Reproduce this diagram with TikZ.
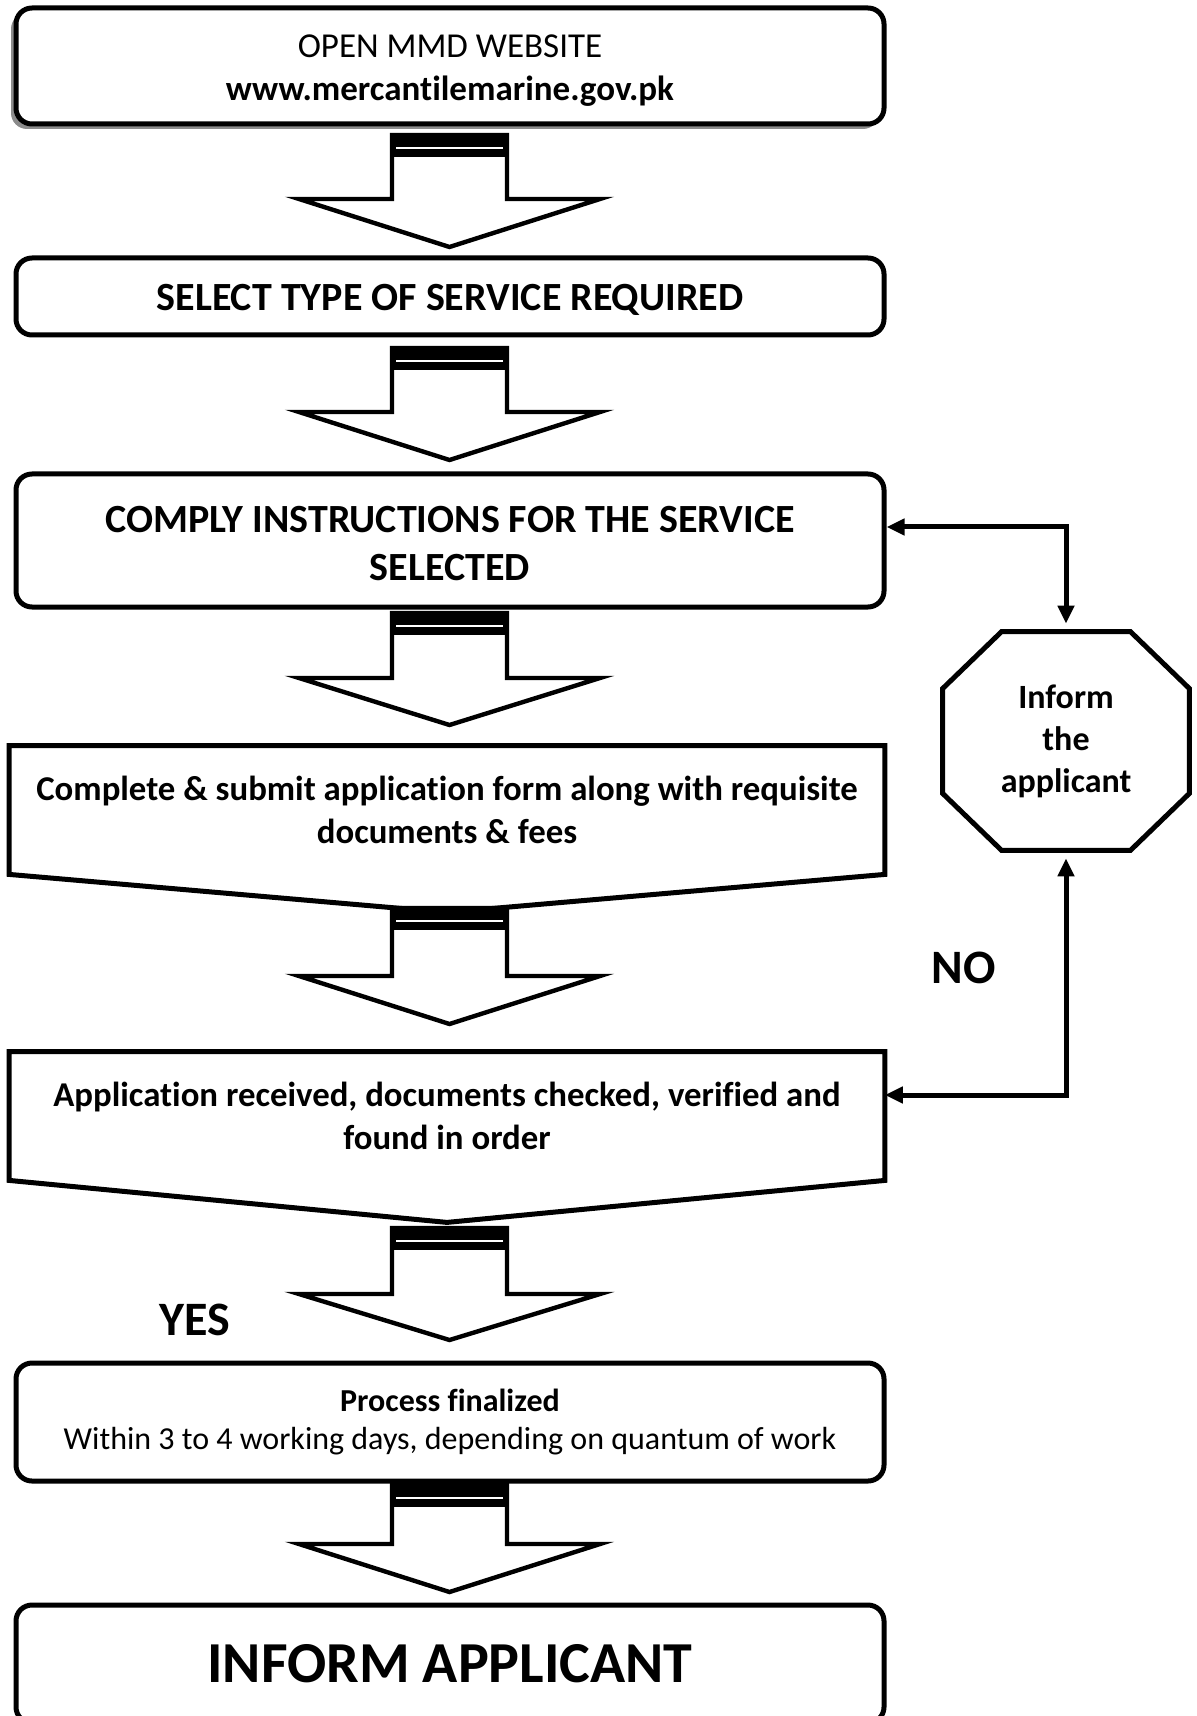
\documentclass[tikz,border=0pt]{standalone}
\usepackage{fontspec}
\setmainfont{Carlito}[Ligatures=NoCommon]
\usetikzlibrary{arrows.meta,shadows}

\begin{document}
\begin{tikzpicture}[x=0.5pt,y=-0.5pt,
  box/.style={draw, line width=2.5pt, rounded corners=8pt, fill=white, minimum width=434pt, align=center, inner sep=0pt},
  doc/.style={minimum width=437.5pt, minimum height=64pt, align=center, inner sep=0pt},
  outline/.style={draw, line width=2.5pt, line join=miter},
  blockarr/.style={draw, line width=2.2pt, fill=white, line join=miter},
  link/.style={line width=2.5pt, line join=miter, {Triangle[length=9pt,width=8pt]}-{Triangle[length=9pt,width=8pt]}},
  big/.style={font=\fontsize{24}{28}\selectfont\bfseries}]
\useasboundingbox (0,0) rectangle (1197,1716);

% steps
\node[box, minimum height=58pt, drop shadow={shadow xshift=-2.5pt, shadow yshift=-2.5pt, fill=black!45, opacity=1},
  font=\fontsize{17.5}{21.5}\selectfont] (web) at (450,66) {\rule{0pt}{15.6pt}OPEN MMD WEBSITE\\\textbf{www.mercantilemarine.gov.pk}};
\node[box, minimum height=38.5pt, font=\fontsize{20}{24}\selectfont\bfseries] (service) at (450,296.5) {\rule{0pt}{17pt}SELECT TYPE OF SERVICE REQUIRED};
\node[box, minimum height=66.5pt, font=\fontsize{20}{24}\selectfont\bfseries] (comply) at (450,540.5) {\rule{0pt}{16pt}COMPLY INSTRUCTIONS FOR THE SERVICE\\SELECTED};
\node[doc, font=\fontsize{17.4}{21.5}\selectfont\bfseries] (apply) at (447,810) {Complete \& submit application form along with requisite\\documents \& fees};
\draw[outline] (apply.north west) -- (apply.north east) -- (apply.south east) -- ([yshift=-19pt]apply.south) -- (apply.south west) -- cycle;
\node[doc, font=\fontsize{17.4}{21.5}\selectfont\bfseries] (check) at (447,1116) {Application received, documents checked, verified and\\found in order};
\draw[outline] (check.north west) -- (check.north east) -- (check.south east) -- ([yshift=-21pt]check.south) -- (check.south west) -- cycle;
\node[box, minimum height=59pt, font=\fontsize{16}{19}\selectfont] (final) at (450,1422) {\textbf{Process finalized}\\Within 3 to 4 working days, depending on quantum of work};
\node[box, minimum height=59pt, font=\fontsize{29}{34}\selectfont\bfseries] (done) at (450,1664) {INFORM APPLICANT};

% block arrows between the steps
\foreach \ys/\yh/\yp in {135/199/247, 348/412/460, 613/678/725, 908/976/1024, 1228/1294/1340, 1485/1544/1592}{
  \draw[blockarr] (392,\ys) -- (392,\yh) -- (299,\yh) -- (449.5,\yp) -- (600,\yh) -- (507,\yh) -- (507,\ys) -- cycle;
  \fill (390,\ys-1) rectangle (509,\ys+22);
  \draw[white, line width=0.6pt] (396,\ys+13) -- (503,\ys+13);
}

% octagon and the loop back
\node[minimum width=123pt, minimum height=109pt, align=center, inner sep=0pt,
  font=\fontsize{17}{21}\selectfont\bfseries] (inform) at (1066,741) {Inform\\the\\applicant};
\draw[outline] ([xshift=29.5pt]inform.north west) -- ([xshift=-29.5pt]inform.north east) -- ([yshift=-28.5pt]inform.north east)
  -- ([yshift=28.5pt]inform.south east) -- ([xshift=-29.5pt]inform.south east) -- ([xshift=29.5pt]inform.south west)
  -- ([yshift=28.5pt]inform.south west) -- ([yshift=-28.5pt]inform.north west) -- cycle;
\coordinate (c1) at (1066,527);
\coordinate (c2) at (1066,1095);
\draw[link] (comply.east |- c1) -- (c1) -- ([yshift=4pt]inform.north);
\draw[link] (check.east |- c2) -- (c2) -- ([yshift=-4pt]inform.south);

\node[big] (no) at (964,968) {NO};
\node[big] (yes) at (195,1320) {YES};
\end{tikzpicture}
\end{document}
